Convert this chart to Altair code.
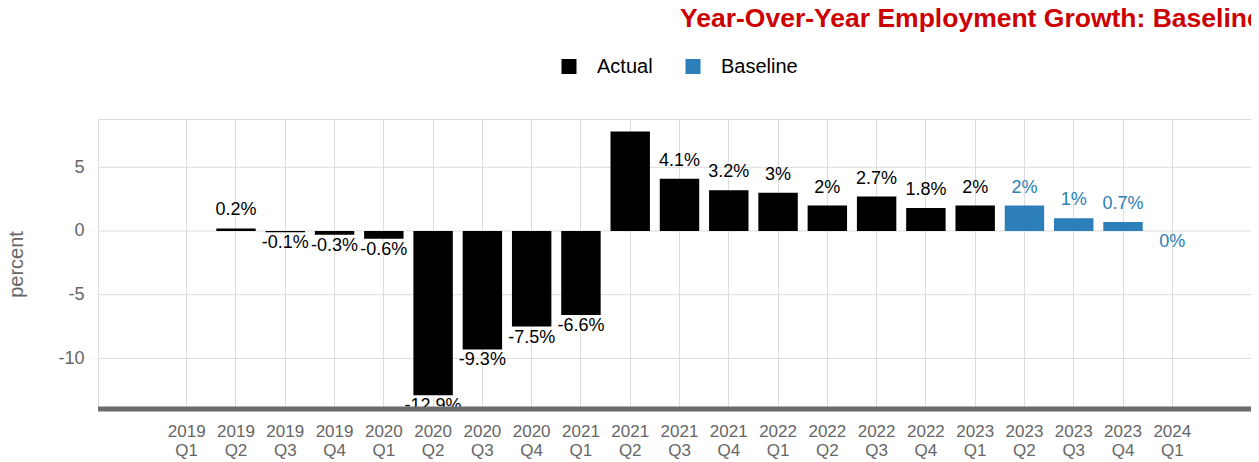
import altair as alt
import pandas as pd

# ---- data ----
quarters = [
    "2019 Q1", "2019 Q2", "2019 Q3", "2019 Q4",
    "2020 Q1", "2020 Q2", "2020 Q3", "2020 Q4",
    "2021 Q1", "2021 Q2", "2021 Q3", "2021 Q4",
    "2022 Q1", "2022 Q2", "2022 Q3", "2022 Q4",
    "2023 Q1", "2023 Q2", "2023 Q3", "2023 Q4",
    "2024 Q1",
]
growth = [
    None, 0.2, -0.1, -0.3,
    -0.6, -12.9, -9.3, -7.5,
    -6.6, 7.8, 4.1, 3.2,
    3.0, 2.0, 2.7, 1.8,
    2.0, 2.0, 1.0, 0.7,
    0.0,
]
series = ["Actual"] * 17 + ["Baseline"] * 4
series_names = ["Actual", "Baseline"]
series_colors = ["#000000", "#2C7FB8"]
y_ticks = [-10, -5, 0, 5]
y_domain = [-13.97, 8.79]

labels = [None if v is None else f"{v:g}%" for v in growth]
df = pd.DataFrame({"quarter": quarters, "value": growth, "series": series, "label": labels})

FONT = "Liberation Sans"
GRID = "#dcdcdc"
AXIS_TEXT = "#666666"

x_enc = alt.X(
    "quarter:N",
    sort=quarters,
    scale=alt.Scale(domain=quarters, paddingInner=0.2, paddingOuter=0, range=[69, 1094]),
    axis=alt.Axis(
        title=None,
        labelExpr="split(datum.label, ' ')",
        labelAngle=0,
        labelFontSize=17,
        labelColor=AXIS_TEXT,
        labelLineHeight=19,
        labelPadding=14,
        labelBaseline="top",
        ticks=False,
        tickSize=0,
        domain=False,
        grid=True,
        gridColor=GRID,
        gridWidth=1,
        bandPosition=0.5,
    ),
)
y_scale = alt.Scale(domain=y_domain, nice=False, zero=False)
y_enc = alt.Y(
    "value:Q",
    scale=y_scale,
    axis=alt.Axis(
        title="percent",
        values=y_ticks,
        labelExpr="'' + datum.value",
        labelFontSize=18,
        labelColor=AXIS_TEXT,
        labelPadding=14,
        ticks=False,
        tickSize=0,
        domain=False,
        grid=False,
        titleFontSize=20,
        titleFontWeight="normal",
        titleColor=AXIS_TEXT,
        titleAngle=270,
        titleAlign="center",
        titleBaseline="alphabetic",
        titleX=-76,
        titleY=145,
    ),
)
color_scale = alt.Scale(domain=series_names, range=series_colors)

# horizontal grid lines at the y tick values, spanning the whole plot width
hgrid = alt.Chart(alt.Data(values=[{"t": t} for t in y_ticks])).mark_rule(
    color=GRID, strokeWidth=1
).encode(y=alt.Y("t:Q", scale=y_scale))

bars = alt.Chart(df).mark_bar().encode(
    x=x_enc,
    y=y_enc,
    color=alt.Color(
        "series:N",
        scale=color_scale,
        legend=alt.Legend(
            title=None,
            orient="none",
            legendX=461,
            legendY=-62.5,
            direction="horizontal",
            symbolType="square",
            symbolSize=225,
            symbolStrokeWidth=0,
            symbolOpacity=1,
            labelFontSize=20,
            labelColor="#000000",
            labelFont=FONT,
            labelOffset=18,
            columnPadding=30,
            labelLimit=300,
        ),
    ),
)

pos_labels = alt.Chart(df).transform_filter("datum.value > 0").mark_text(
    dy=-13, baseline="alphabetic", fontSize=18, font=FONT, clip=True
).encode(
    x=alt.X("quarter:N", sort=quarters),
    y="value:Q",
    text="label:N",
    color=alt.Color("series:N", scale=color_scale, legend=None),
)

neg_labels = alt.Chart(df).transform_filter("datum.value != null && datum.value <= 0").mark_text(
    dy=16, baseline="alphabetic", fontSize=18, font=FONT, clip=True
).encode(
    x=alt.X("quarter:N", sort=quarters),
    y="value:Q",
    text="label:N",
    color=alt.Color("series:N", scale=color_scale, legend=None),
)

bottom_line = alt.Chart(alt.Data(values=[{"v": y_domain[0]}])).mark_rule(
    color="#6b6b6b", strokeWidth=5
).encode(y="v:Q")

chart = alt.layer(hgrid, bars, pos_labels, neg_labels, bottom_line).properties(
    width=1153,
    height=290,
    autosize=alt.AutoSizeParams(type="none"),
    padding={"left": 90, "top": 111, "right": 0, "bottom": 56},
    title=alt.Title(
        "Year-Over-Year Employment Growth: Baseline",
        anchor="start",
        frame="group",
        dx=582,
        dy=0.5,
        fontSize=26.5,
        fontWeight="bold",
        color="#cc0000",
        font=FONT,
        baseline="alphabetic",
    ),
).configure_view(stroke=None).configure(font=FONT)

chart.save("out.html", embed_options={"renderer": "svg", "actions": False})
